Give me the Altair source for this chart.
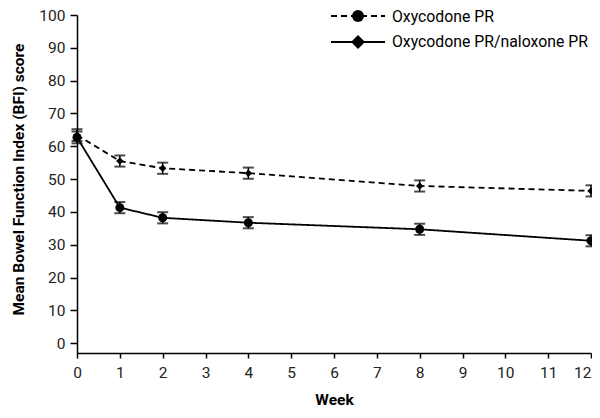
import altair as alt
import pandas as pd

weeks = [0, 1, 2, 4, 8, 12]
series_names = ["Oxycodone PR", "Oxycodone PR/naloxone PR"]
oxy_pr = [63.4, 55.5, 53.3, 51.8, 47.9, 46.4]
oxy_pr_err = [1.8, 1.7, 1.7, 1.7, 1.7, 1.7]
oxn_pr = [62.7, 41.3, 38.2, 36.7, 34.7, 31.2]
oxn_pr_err = [1.8, 1.7, 1.7, 1.7, 1.7, 1.7]
x_ticks = list(range(0, 13))
y_ticks = list(range(0, 101, 10))

rows = []
for name, vals, errs in [(series_names[0], oxy_pr, oxy_pr_err), (series_names[1], oxn_pr, oxn_pr_err)]:
    for w, v, e in zip(weeks, vals, errs):
        rows.append({"week": w, "score": v, "lo": v - e, "hi": v + e, "series": name})
df = pd.DataFrame(rows)

FONT = "Roboto"
x_scale = alt.Scale(domain=[0, 12], nice=False)
y_scale = alt.Scale(domain=[-3, 100], nice=False, zero=False)
x_axis = alt.Axis(values=x_ticks, title="Week", tickSize=5, labelPadding=7,
                  titlePadding=12, format="d", labelOverlap=False,
                  labelAlign={"condition": {"test": "datum.value == 12", "value": "right"}, "value": "center"})
y_axis = alt.Axis(values=y_ticks, title="Mean Bowel Function Index (BFI) score",
                  tickSize=7, labelPadding=5, titleX=-59, titleY=164, labelOverlap=False,
                  titleAngle=-90, titleAlign="center", titleBaseline="middle", format="d")


def X(f):
    return alt.X(f, scale=x_scale, axis=x_axis)


def Y(f):
    return alt.Y(f, scale=y_scale, axis=y_axis)


dash = alt.StrokeDash("series:N", scale=alt.Scale(domain=series_names, range=[[6, 4], [1, 0]]), legend=None)
shape = alt.Shape("series:N", scale=alt.Scale(domain=series_names, range=["diamond", "circle"]), legend=None)
size = alt.Size("series:N", scale=alt.Scale(domain=series_names, range=[55, 81]), legend=None)

base = alt.Chart(df)
lines = base.mark_line(color="black", strokeWidth=1.8).encode(
    x=X("week:Q"), y=Y("score:Q"), strokeDash=dash, detail="series:N")
err = base.mark_rule(color="black", strokeWidth=1.5).encode(x=X("week:Q"), y=Y("lo:Q"), y2="hi:Q")
cap_lo = base.mark_tick(color="black", thickness=2, size=11, orient="horizontal").encode(
    x=X("week:Q"), y=Y("lo:Q"))
cap_hi = base.mark_tick(color="black", thickness=2, size=11, orient="horizontal").encode(
    x=X("week:Q"), y=Y("hi:Q"))
pts = base.mark_point(filled=True, color="black", opacity=1).encode(
    x=X("week:Q"), y=Y("score:Q"), shape=shape, size=size)

one = alt.Data(values=[{"k": 0}])
leg1_line = alt.Chart(one).mark_rule(color="black", strokeWidth=1.8, strokeDash=[6, 4]).encode(
    x=alt.value(254), x2=alt.value(308), y=alt.value(1))
leg1_pt = alt.Chart(one).mark_point(filled=True, color="black", opacity=1, shape="circle", size=144).encode(
    x=alt.value(281), y=alt.value(1))
leg1_txt = alt.Chart(one).mark_text(align="left", baseline="middle", fontSize=15.8, font=FONT).encode(
    x=alt.value(315), y=alt.value(1.5), text=alt.value(series_names[0]))
leg2_line = alt.Chart(one).mark_rule(color="black", strokeWidth=1.8).encode(
    x=alt.value(254), x2=alt.value(308), y=alt.value(27))
leg2_pt = alt.Chart(one).mark_point(filled=True, color="black", opacity=1, shape="diamond", size=196).encode(
    x=alt.value(281), y=alt.value(27))
leg2_txt = alt.Chart(one).mark_text(align="left", baseline="middle", fontSize=15.8, font=FONT).encode(
    x=alt.value(315), y=alt.value(27), text=alt.value(series_names[1]))

chart = alt.layer(lines, err, cap_lo, cap_hi, pts,
                  leg1_line, leg1_pt, leg1_txt, leg2_line, leg2_pt, leg2_txt).properties(
    width=514, height=338,
    autosize=alt.AutoSizeParams(type="none"),
    padding={"left": 69, "top": 7, "right": 1, "bottom": 57},
).configure_view(stroke=None).configure_axis(
    grid=False, domainColor="black", domainWidth=1.5, tickColor="black", tickWidth=1.5,
    labelFont=FONT, labelFontSize=15.5, labelColor="#222", titleFont=FONT, titleFontSize=15.5,
    titleFontWeight="bold", titleColor="black",
)

chart.save("out.html", embed_options={"renderer": "svg", "actions": False})
